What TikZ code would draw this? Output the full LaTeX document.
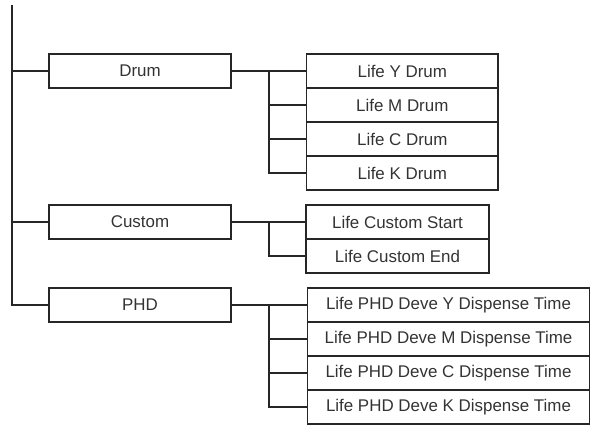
\documentclass[tikz,border=0pt]{standalone}
\usepackage{fontspec}
\setmainfont{Liberation Sans}
\usepackage{tikz}

\tikzset{
  link/.style={line width=1.3pt, draw=black!85},
  topbox/.style={draw=black!85, line width=1.3pt, inner sep=0pt,
    minimum width=136.5pt, minimum height=26pt,
    font=\fontsize{12.7}{14}\selectfont, text=black!80},
  itembox/.style={draw=black!85, line width=1.3pt, inner sep=0pt,
    minimum height=25.5pt, font=\fontsize{12.7}{14}\selectfont, text=black!80},
}

\begin{document}
\begin{tikzpicture}[x=0.75pt, y=-0.75pt]
  \useasboundingbox (0,0) rectangle (591,425);

  % first level
  \node[topbox] (drum)   at (140,71)  {Drum};
  \node[topbox] (custom) at (140,222) {Custom};
  \node[topbox] (phd)    at (140,305) {PHD};

  % second level
  \foreach \i/\lbl in {1/Y, 2/M, 3/C, 4/K}
    \node[itembox, minimum width=143.6pt] (drum\i) at (402.3,{71+(\i-1)*34}) {Life \lbl\ Drum};
  \node[itembox, minimum width=137.3pt] (custom1) at (397.5,222) {Life Custom Start};
  \node[itembox, minimum width=137.3pt] (custom2) at (397.5,256) {Life Custom End};
  \foreach \i/\lbl in {1/Y, 2/M, 3/C, 4/K}
    \node[itembox, minimum width=211.5pt] (phd\i) at (448.5,{305+(\i-1)*34}) {Life PHD Deve \lbl\ Dispense Time};

  % trunk
  \coordinate (trunk) at (12,5);
  \coordinate (split) at (269,5);
  \draw[link] (trunk) |- (phd.west);
  \foreach \n in {drum, custom}
    \draw[link] (trunk |- \n.west) -- (\n.west);

  % branches
  \foreach \n/\last in {drum/4, custom/2, phd/4} {
    \draw[link] (\n.east) -- (\n1.west);
    \foreach \i in {2,...,\last}
      \draw[link] (split |- \n1.west) |- (\n\i.west);
  }
\end{tikzpicture}
\end{document}
